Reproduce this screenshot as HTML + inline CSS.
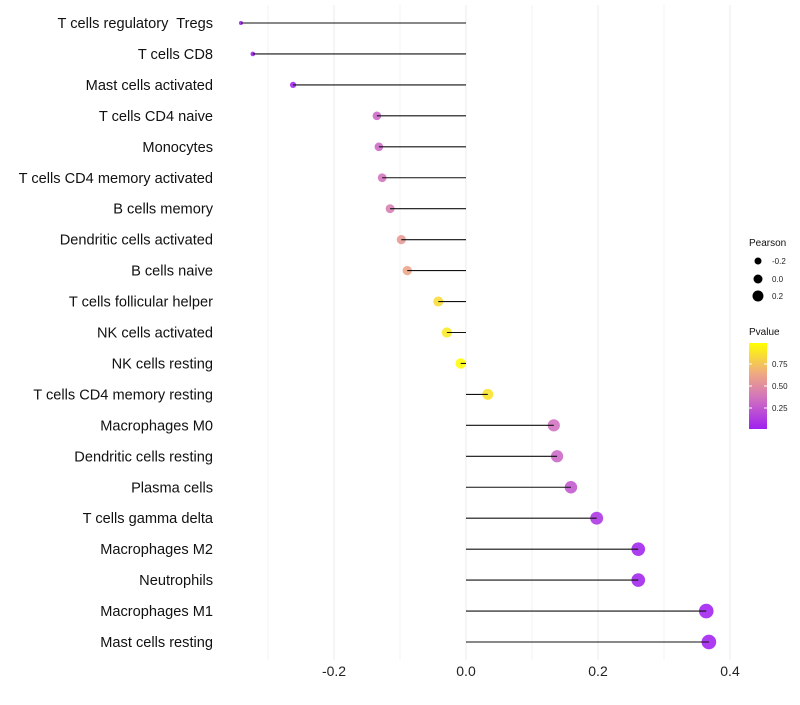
<!DOCTYPE html>
<html><head><meta charset="utf-8"><style>
body{margin:0;background:#fff;font-family:"Liberation Sans",sans-serif}
text{white-space:pre}
</style></head><body>
<svg id="c" width="800" height="700" xmlns="http://www.w3.org/2000/svg">
<defs><linearGradient id="pg" x1="0" y1="1" x2="0" y2="0">
<stop offset="0" stop-color="#A020F0"/><stop offset="0.35" stop-color="#D070C0"/><stop offset="0.65" stop-color="#EFAA80"/><stop offset="1" stop-color="#FFFF00"/></linearGradient></defs>
</svg>
<script>
const cells=["T cells regulatory  Tregs","T cells CD8","Mast cells activated","T cells CD4 naive","Monocytes","T cells CD4 memory activated","B cells memory","Dendritic cells activated","B cells naive","T cells follicular helper","NK cells activated","NK cells resting","T cells CD4 memory resting","Macrophages M0","Dendritic cells resting","Plasma cells","T cells gamma delta","Macrophages M2","Neutrophils","Macrophages M1","Mast cells resting"];
const pearson=[-0.341,-0.323,-0.262,-0.135,-0.132,-0.127,-0.115,-0.098,-0.089,-0.042,-0.029,-0.008,0.033,0.133,0.138,0.159,0.198,0.261,0.261,0.364,0.368];
const pvalue=[0.02,0.03,0.08,0.32,0.32,0.36,0.42,0.56,0.62,0.85,0.9,0.98,0.88,0.35,0.32,0.26,0.14,0.08,0.08,0.03,0.03];
const xTicks=[-0.2,0,0.2,0.4];
const xTickLabels=["-0.2","0.0","0.2","0.4"];
const svg=document.getElementById('c');
const NS="http://www.w3.org/2000/svg";
const X=v=>466+v*660;
const Y=i=>23+i*30.95;
function el(t,a,p){const e=document.createElementNS(NS,t);for(const k in a)e.setAttribute(k,a[k]);(p||svg).appendChild(e);return e;}
function lerp(a,b,t){return a.map((x,i)=>Math.round(x+(b[i]-x)*t));}
function col(p){const st=[[0.07,[160,32,240]],[0.35,[208,112,192]],[0.65,[239,170,128]],[0.99,[255,255,0]]];
 if(p<=st[0][0])return `rgb(${st[0][1]})`;for(let i=1;i<st.length;i++){if(p<=st[i][0]){const t=(p-st[i-1][0])/(st[i][0]-st[i-1][0]);return `rgb(${lerp(st[i-1][1],st[i][1],t)})`;}}return 'rgb(255,255,0)';}
for(let v=-0.3;v<=0.5;v+=0.1){const x=X(v);if(x<225||x>790)continue;
 const g=el('line',{x1:x,x2:x,y1:5,y2:660,stroke:'#ebebeb','stroke-width':Math.abs(Math.round(v*10))%2===0?1:0.6});
 }
xTicks.forEach((v,i)=>{const t=el('text',{x:X(v),y:676,'text-anchor':'middle','font-size':14,fill:'#222'});t.textContent=xTickLabels[i];
 });
cells.forEach((c,i)=>{const y=Y(i);
 const t=el('text',{x:213,y:y+5,'text-anchor':'end','font-size':14.6,fill:'#111'});t.textContent=c;
 
 const r=Math.sqrt(Math.max(2.5,28+70*pearson[i]));
 const d=el('circle',{cx:X(pearson[i]),cy:y,r:r,fill:col(pvalue[i]),'fill-opacity':0.88});
 
 const l=el('line',{x1:X(0),x2:X(pearson[i]),y1:y,y2:y,stroke:'#111','stroke-width':1.1});
 
});
const lg=el('g',{});
let t=el('text',{x:749,y:246,'font-size':10,fill:'#111'},lg);t.textContent='Pearson';
[[-0.2,'-0.2',261,3.5],[0,'0.0',279,4.5],[0.2,'0.2',296,5.5]].forEach(a=>{
 const c=el('circle',{cx:758,cy:a[2],r:a[3],fill:'#000'},lg);
 const tt=el('text',{x:772,y:a[2]+3,'font-size':8,fill:'#222'},lg);tt.textContent=a[1];});
t=el('text',{x:749,y:335,'font-size':10,fill:'#111'},lg);t.textContent='Pvalue';
const cb=el('rect',{x:749,y:343,width:18,height:86,fill:'url(#pg)'},lg);
[[0.75,364],[0.5,386],[0.25,408]].forEach(a=>{el('line',{x1:749,x2:752,y1:a[1],y2:a[1],stroke:'#fff'},lg);el('line',{x1:764,x2:767,y1:a[1],y2:a[1],stroke:'#fff'},lg);
 const tt=el('text',{x:772,y:a[1]+3,'font-size':8,fill:'#222'},lg);tt.textContent=a[0].toFixed(2);});
</script>
</body></html>
